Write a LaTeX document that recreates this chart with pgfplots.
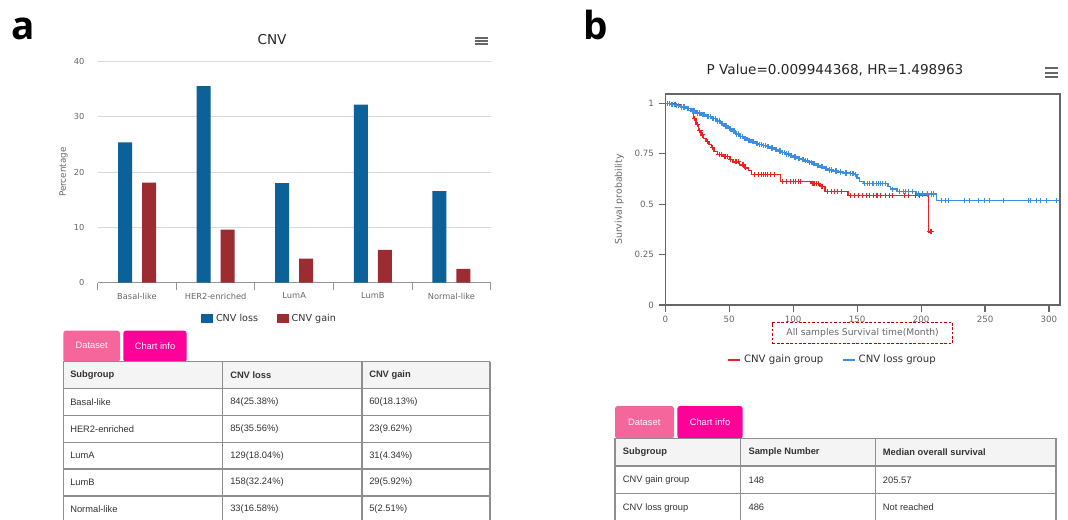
\documentclass[border=0pt]{standalone}
\usepackage{pgfplots}
\pgfplotsset{compat=1.18}
\usepackage{fontspec}
\setmainfont{DejaVu Sans}
\newfontfamily\arialfont{Liberation Sans}
\newfontfamily\panelfont{Open Sans}

\definecolor{barBlue}{HTML}{0B6198}
\definecolor{barRed}{HTML}{9C2B32}
\definecolor{kmBlue}{HTML}{3D8EE0}
\definecolor{kmRed}{HTML}{F21F1F}
\definecolor{tabPink}{HTML}{F5679A}
\definecolor{tabMag}{HTML}{FF0099}
\definecolor{tblLine}{HTML}{8E8E8E}
\definecolor{tblHead}{HTML}{F4F4F4}
\definecolor{tblText}{HTML}{333333}
\definecolor{axGray}{HTML}{666666}
\definecolor{gridGray}{HTML}{D9D9D9}

% table cells, positions in pixels of the 1068x519 reference (y from top)
\newcommand\cell[3]{\node[anchor=west,inner sep=0pt,text=tblText,font=\arialfont\fontsize{7}{8}\selectfont] at (#1,519-#2) {#3};}
\newcommand\hcell[3]{\node[anchor=west,inner sep=0pt,text=tblText,font=\arialfont\bfseries\fontsize{7}{8}\selectfont] at (#1,519-#2) {#3};}
\newcommand\tabtext[3]{\node[text=white!92!pink,font=\arialfont\fontsize{7}{8}\selectfont] at (#1,519-#2) {#3};}

\pgfplotsset{
  sqlegend/.style={legend image code/.code={\fill[##1] (0pt,-3.4pt) rectangle (9.2pt,3.4pt);}},
  lnlegend/.style={legend image code/.code={\draw[##1,line width=1.5pt] (0pt,0pt) -- (9pt,0pt);}},
}

\begin{document}
\begin{tikzpicture}
\begin{scope}[x=0.75pt,y=0.75pt]
\path[use as bounding box] (0,0) rectangle (1068,519);

% panel letters
\node[anchor=base west,inner sep=0pt,font=\panelfont\bfseries\fontsize{29}{30}\selectfont] at (11,519-40) {a};
\node[anchor=base west,inner sep=0pt,font=\panelfont\bfseries\fontsize{29}{30}\selectfont] at (583,519-40) {b};

\node[font=\fontsize{10.2}{12}\selectfont,text=black!85] at (272,519-40) {CNV};
\foreach \yy in {37.7,41,44.3} \draw[axGray,line width=1.5pt] (475,519-\yy) -- (488.3,519-\yy);

% table a
\fill[tabPink,rounded corners=2pt] (63.3,519-362) -- (63.3,519-330.7) -- (120,519-330.7) -- (120,519-362) -- cycle;
\fill[tabMag,rounded corners=2pt] (123.3,519-362) -- (123.3,519-330.7) -- (186.7,519-330.7) -- (186.7,519-362) -- cycle;
\tabtext{91.7}{345.7}{Dataset}
\tabtext{155}{345.7}{Chart info}
\fill[tblHead] (63.3,519-361.7) rectangle (490,519-388.7);
\foreach \yy in {361.7,388.7,415.7,442.3,469,496}
  \draw[tblLine,line width=1pt] (63.3,519-\yy) -- (490,519-\yy);
\foreach \xx in {63.3,222.7,362,490}
  \draw[tblLine,line width=1pt] (\xx,519-361.7) -- (\xx,-8);
\hcell{70}{375.2}{Subgroup}\hcell{230}{375.2}{CNV loss}\hcell{369}{375.2}{CNV gain}
\cell{70}{402.2}{Basal-like}\cell{230}{402.2}{84(25.38\%)}\cell{369}{402.2}{60(18.13\%)}
\cell{70}{429}{HER2-enriched}\cell{230}{429}{85(35.56\%)}\cell{369}{429}{23(9.62\%)}
\cell{70}{455.7}{LumA}\cell{230}{455.7}{129(18.04\%)}\cell{369}{455.7}{31(4.34\%)}
\cell{70}{482.5}{LumB}\cell{230}{482.5}{158(32.24\%)}\cell{369}{482.5}{29(5.92\%)}
\cell{70}{509.5}{Normal-like}\cell{230}{509.5}{33(16.58\%)}\cell{369}{509.5}{5(2.51\%)}

\node[font=\fontsize{10.2}{12}\selectfont,text=black!85] at (835,519-70) {P Value=0.009944368, HR=1.498963};
\foreach \yy in {68.3,72.7,77} \draw[axGray,line width=1.5pt] (1045,519-\yy) -- (1058.3,519-\yy);

% table b
\fill[tabPink,rounded corners=2pt] (615,519-438.6) -- (615,519-406) -- (674,519-406) -- (674,519-438.6) -- cycle;
\fill[tabMag,rounded corners=2pt] (677.3,519-438.6) -- (677.3,519-406) -- (742.7,519-406) -- (742.7,519-438.6) -- cycle;
\tabtext{644.3}{422.3}{Dataset}
\tabtext{710}{422.3}{Chart info}
\fill[tblHead] (615,519-438.3) rectangle (1056,519-466);
\foreach \yy in {438.3,466,493.7}
  \draw[tblLine,line width=1pt] (615,519-\yy) -- (1056,519-\yy);
\foreach \xx in {615,740.7,875.3,1056}
  \draw[tblLine,line width=1pt] (\xx,519-438.3) -- (\xx,-8);
\hcell{622.7}{452.2}{Subgroup}\hcell{748.3}{452.2}{Sample Number}\hcell{882.7}{452.2}{Median overall survival}
\cell{622.7}{479.9}{CNV gain group}\cell{748.3}{479.9}{148}\cell{882.7}{479.9}{205.57}
\cell{622.7}{507.6}{CNV loss group}\cell{748.3}{507.6}{486}\cell{882.7}{507.6}{Not reached}
\end{scope}

% ---------------- panel a : bar chart ----------------
\begin{axis}[
  at={(73.275pt,177.225pt)}, anchor=south west, scale only axis,
  width=294.75pt, height=165.75pt,
  xmin=-0.5, xmax=4.5, ymin=0, ymax=40,
  ytick={0,10,20,30,40},
  xtick={0,1,2,3,4},
  xticklabels={Basal-like,HER2-enriched,LumA,LumB,Normal-like},
  axis x line*=bottom, axis y line*=left,
  x axis line style={-,axGray!70,line width=0.8pt},
  y axis line style={draw=none},
  ytick style={draw=none},
  major tick length=0pt,
  extra x ticks={-0.5,0.5,1.5,2.5,3.5,4.5},
  extra x tick labels={},
  extra x tick style={major tick length=5.5pt,tick align=outside,
    tick style={axGray!70,line width=0.8pt}},
  ymajorgrids, grid style={gridGray,line width=0.7pt},
  /pgf/number format/assume math mode=true,
  ticklabel style={font=\fontsize{6.2}{7}\selectfont,text=axGray},
  yticklabel style={xshift=-6.5pt},
  xticklabel style={yshift=-4pt},
  ylabel={Percentage},
  ylabel style={at={(axis description cs:-0.0865,0.5)},anchor=center,
    font=\fontsize{6.6}{7}\selectfont,text=axGray},
  legend style={at={(0.438,-0.164)},anchor=center,legend columns=2,draw=none,
    font=\fontsize{7.2}{8}\selectfont,text=black!80,
    /tikz/every even column/.append style={column sep=12pt}},
  legend cell align=left,
]
\addplot[ybar,bar width=10.5pt,bar shift=-9pt,fill=barBlue,draw=none,sqlegend]
  coordinates {(0,25.38) (1,35.56) (2,18.04) (3,32.24) (4,16.58)};
\addplot[ybar,bar width=10.5pt,bar shift=9pt,fill=barRed,draw=none,sqlegend]
  coordinates {(0,18.13) (1,9.62) (2,4.34) (3,5.92) (4,2.51)};
\legend{CNV loss,CNV gain}
\end{axis}

% ---------------- panel b : survival ----------------
\begin{axis}[
  at={(498.975pt,160.5pt)}, anchor=south west, scale only axis,
  width=296pt, height=158.25pt,
  xmin=0, xmax=308.6, ymin=0, ymax=1.046,
  axis line style={axGray,line width=1pt},
  xtick={0,50,100,150,200,250,300},
  ytick={0,0.25,0.5,0.75,1},
  yticklabels={0,0.25,0.5,0.75,1},
  tick pos=left, tick align=outside, major tick length=5pt,
  tick style={axGray,line width=0.8pt},
  /pgf/number format/assume math mode=true,
  ticklabel style={font=\fontsize{6.5}{7}\selectfont,text=axGray},
  ylabel={Survival probability},
  ylabel style={at={(axis description cs:-0.1165,0.5)},anchor=center,
    font=\fontsize{7}{8}\selectfont,text=axGray},
  xlabel={All samples Survival time(Month)},
  xlabel style={at={(axis description cs:0.5,-0.1327)},anchor=center,
    font=\fontsize{6.9}{8}\selectfont,text=axGray,
    draw=red!75!black,dash pattern=on 2pt off 1.3pt,line width=0.6pt,
    minimum width=135pt,minimum height=15.75pt},
  legend style={at={(0.4246,-0.2607)},anchor=center,legend columns=2,draw=none,
    font=\fontsize{7.6}{9}\selectfont,text=black!80,
    /tikz/every even column/.append style={column sep=12pt}},
  legend cell align=left,
  clip mode=individual,
]
% CNV gain group, n = 148
\addplot[const plot,kmRed,line width=1.1pt,mark=none,lnlegend] coordinates {
 (0,1) (6,0.995) (12,0.985) (17,0.975) (20,0.958) (22,0.925) (24,0.895) (26,0.865)
 (28,0.843) (30,0.826) (32,0.81) (34,0.795) (36,0.78) (38,0.76) (41,0.745) (45,0.735)
 (50,0.72) (53,0.71) (58,0.695) (62,0.68) (65,0.668) (67.5,0.648) (90,0.611)
 (114,0.603) (121,0.587) (125,0.562) (143,0.543) (205.6,0.363) (208,0.363)};
% CNV loss group, n = 486
\addplot[const plot,kmBlue,line width=1.1pt,mark=none,lnlegend] coordinates {
 (0,1) (4,0.995) (8,0.99) (12,0.982) (16,0.973) (20,0.962) (24,0.952) (28,0.943)
 (32,0.934) (36,0.924) (40,0.912) (43,0.9) (46,0.888) (49,0.874) (52,0.862) (55,0.848)
 (58,0.836) (61,0.827) (64,0.817) (67,0.809) (70,0.801) (73,0.795) (76,0.79) (79,0.785)
 (82,0.778) (85,0.77) (88,0.763) (91,0.756) (94,0.749) (97,0.741) (100,0.733)
 (103,0.727) (106,0.721) (109,0.715) (112,0.708) (115,0.7) (118,0.692) (121,0.685)
 (124,0.677) (127,0.67) (131,0.664) (135,0.659) (139,0.655) (143,0.652) (148,0.647)
 (150,0.63) (152,0.611) (155,0.603) (174,0.588) (176,0.574) (181,0.562) (196,0.55)
 (212,0.517) (307,0.517)};
% censored samples
\addplot[only marks,kmRed,mark=+,mark size=2pt,line width=0.75pt,forget plot] coordinates {
 (3,1) (8,0.995) (14,0.985) (23,0.925) (25,0.895) (27,0.865) (29,0.843) (33,0.81)
 (37,0.78) (42,0.745) (44,0.745) (46,0.735) (47,0.735) (49,0.735) (51,0.72) (55,0.71)
 (56,0.71) (57,0.71) (60,0.695) (61,0.695) (63,0.68) (70,0.648) (73,0.648) (75,0.648)
 (77,0.648) (78,0.648) (80,0.648) (82,0.648) (85,0.648) (92,0.611) (95,0.611) (98,0.611)
 (100,0.611) (102,0.611) (104,0.611) (106,0.611) (115,0.603) (116,0.603) (117,0.603)
 (118,0.603) (120,0.603) (122,0.587) (123,0.587) (127,0.562) (130,0.562) (132,0.562)
 (135,0.562) (138,0.562) (145,0.543) (148,0.543) (151,0.543) (154,0.543) (157,0.543)
 (160,0.543) (163,0.543) (165,0.543) (166,0.543) (168,0.543) (172,0.543) (175,0.543)
 (178,0.543) (187,0.543) (190,0.543) (196,0.543) (199,0.543) (207,0.363) (208,0.363)};
\addplot[only marks,kmBlue,mark=+,mark size=2pt,line width=0.75pt,forget plot] coordinates {
 (2,1) (3,1) (5,0.995) (6,0.995) (7,0.995) (9,0.99) (10,0.99) (13,0.982) (14,0.982)
 (15,0.982) (17,0.973) (18,0.973) (21,0.962) (22,0.962) (23,0.962) (25,0.952)
 (27,0.952) (29,0.943) (30,0.943) (31,0.943) (33,0.934) (34,0.934) (35,0.934)
 (37,0.924) (38,0.924) (39,0.924) (41,0.912) (42,0.912) (44,0.9) (45,0.9) (47,0.888)
 (48,0.888) (50,0.874) (51,0.874) (53,0.862) (54,0.862) (56,0.848) (57,0.848)
 (59,0.836) (60,0.836) (62,0.827) (63,0.827) (65,0.817) (66,0.817) (68,0.809)
 (69,0.809) (71,0.801) (72,0.801) (74,0.795) (75,0.795) (77,0.79) (78,0.79) (80,0.785)
 (81,0.785) (83,0.778) (84,0.778) (86,0.77) (87,0.77) (89,0.763) (90,0.763) (92,0.756)
 (93,0.756) (95,0.749) (96,0.749) (98,0.741) (99,0.741) (101,0.733) (102,0.733)
 (104,0.727) (105,0.727) (107,0.721) (108,0.721) (110,0.715) (111,0.715) (113,0.708)
 (114,0.708) (116,0.7) (117,0.7) (119,0.692) (120,0.692) (122,0.685) (123,0.685)
 (125,0.677) (126,0.677) (128,0.67) (130,0.67) (133,0.664) (134,0.664) (137,0.659)
 (141,0.655) (142,0.655) (145,0.652) (146,0.652) (147,0.652) (149,0.647) (156,0.603)
 (158,0.603) (160,0.603) (162,0.603) (163,0.603) (165,0.603) (167,0.603) (168,0.603)
 (170,0.603) (172,0.603) (178,0.574) (183,0.562) (186,0.562) (188,0.562) (190,0.562)
 (193,0.562) (198,0.55) (201,0.55) (205,0.55) (208,0.55) (210,0.55) (216.1,0.517)
 (218.7,0.517) (221.3,0.517) (234.3,0.517) (238.2,0.517) (244.7,0.517) (249.4,0.517)
 (253.3,0.517) (264.3,0.517) (283.8,0.517) (285.7,0.517) (290.4,0.517) (293,0.517)
 (298.2,0.517) (306,0.517)};
\legend{CNV gain group,CNV loss group}
\end{axis}
\end{tikzpicture}
\end{document}
